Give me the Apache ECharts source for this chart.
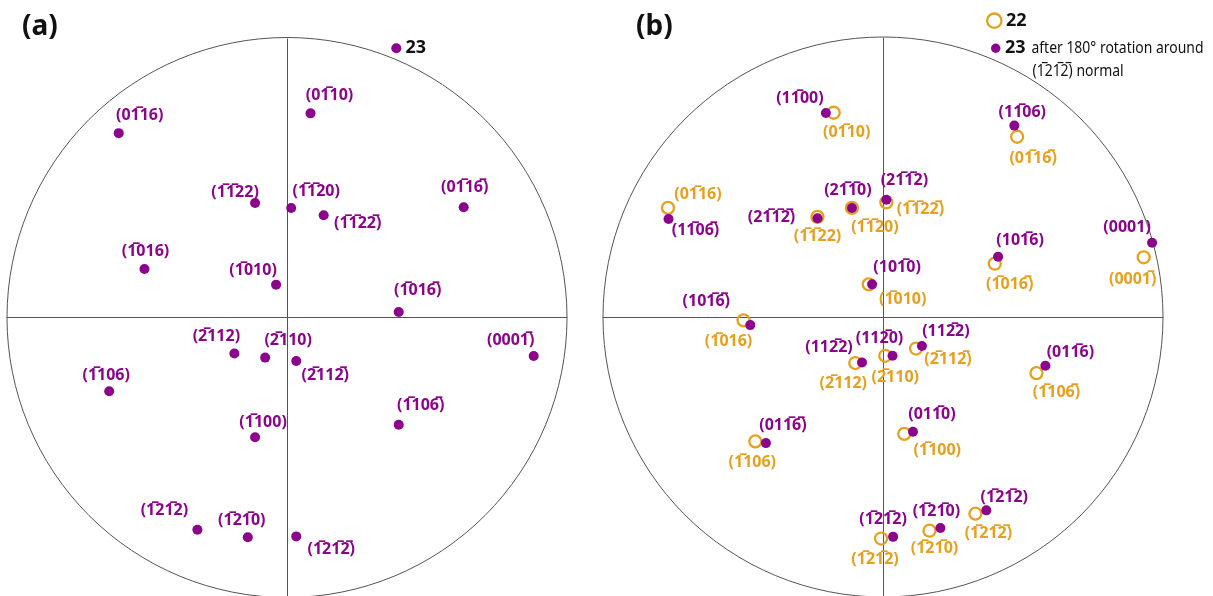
<!DOCTYPE html>
<html>
<head>
<meta charset="utf-8">
<script src="https://cdn.jsdelivr.net/npm/echarts@6/dist/echarts.min.js"></script>
<style>
  html, body { margin: 0; padding: 0; background: #ffffff; }
  #chart { width: 1213px; height: 596px; }
</style>
</head>
<body>
<div id="chart"></div>
<script>
// Stereographic pole positions in projection units (unit circle = primitive).
// Miller-Bravais indices (h k i l); negative entries are drawn with an overbar.

// (a) grain 23
const grain23Indices = [
  [0,-1,1,6], [-1,-1,2,2], [-1,-1,2,0], [-1,0,1,6], [-1,0,1,0],
  [0,-1,1,0], [-1,-1,2,-2], [0,-1,1,-6], [-1,0,1,-6], [0,0,0,-1],
  [-1,1,0,-6], [-2,1,1,-2], [-1,2,-1,-2], [-2,1,1,2], [-2,1,1,0],
  [-1,1,0,6], [-1,1,0,0], [-1,2,-1,2], [-1,2,-1,0]
];
const grain23Poles = [
  [-0.601, 0.662], [-0.114, 0.411], [0.015, 0.393], [-0.509, 0.174], [-0.039, 0.118],
  [0.084, 0.733], [0.131, 0.367], [0.631, 0.396], [0.399, 0.020], [0.881, -0.138],
  [0.399, -0.385], [0.033, -0.156], [0.033, -0.786], [-0.188, -0.129], [-0.078, -0.144],
  [-0.635, -0.265], [-0.114, -0.430], [-0.320, -0.762], [-0.140, -0.789]
];

// (b) grain 22
const grain22Indices = [
  [0,-1,1,0], [0,-1,1,6], [-1,-1,2,2], [-1,-1,2,0], [-1,-1,2,-2],
  [-1,0,1,0], [-1,0,1,6], [-2,1,1,2], [-2,1,1,0], [-2,1,1,-2],
  [-1,1,0,-6], [-1,1,0,0], [-1,2,-1,-2], [-1,2,-1,0], [-1,2,-1,2],
  [-1,1,0,6], [0,-1,1,-6], [-1,0,1,-6], [0,0,0,-1]
];
const grain22Poles = [
  [-0.176, 0.732], [-0.768, 0.391], [-0.234, 0.359], [-0.111, 0.391], [0.012, 0.411],
  [-0.051, 0.117], [-0.498, -0.012], [-0.099, -0.165], [0.008, -0.139], [0.118, -0.113],
  [0.548, -0.201], [0.076, -0.419], [0.330, -0.705], [0.166, -0.766], [-0.007, -0.794],
  [-0.456, -0.446], [0.479, 0.646], [0.399, 0.191], [0.931, 0.214]
];

// (b) grain 23 after 180° rotation around the (-1 2 -1 -2) normal
const grain23RotIndices = [
  [1,-1,0,0], [1,-1,0,-6], [2,-1,-1,-2], [2,-1,-1,0], [2,-1,-1,2],
  [1,0,-1,0], [1,0,-1,-6], [1,1,-2,2], [1,1,-2,0], [1,1,-2,2],
  [0,1,-1,6], [0,1,-1,0], [-1,2,-1,2], [-1,2,-1,0], [-1,2,-1,2],
  [0,1,-1,-6], [1,-1,0,6], [1,0,-1,6], [0,0,0,1]
];
const grain23RotPoles = [
  [-0.204, 0.731], [-0.766, 0.351], [-0.234, 0.354], [-0.111, 0.391], [0.012, 0.420],
  [-0.039, 0.117], [-0.474, -0.029], [-0.075, -0.163], [0.034, -0.139], [0.139, -0.104],
  [0.580, -0.175], [0.107, -0.411], [0.369, -0.693], [0.205, -0.756], [0.036, -0.788],
  [-0.418, -0.452], [0.469, 0.686], [0.411, 0.216], [0.961, 0.266]
];

// Label placement relative to each mark, in pixels [dx, dy].
const grain23LabelShift = [
  [21,-18], [-20,-11], [25,-17], [1,-18], [-23,-14],
  [19,-18], [34,8], [1,-20], [19,-21], [-23,-15],
  [22,-19], [29,14], [35,13], [-18,-17], [23,-17],
  [-3,-16], [8,-15], [-33,-19], [-6,-17]
];
const grain22LabelShift = [
  [13,20], [30,-13], [0,20], [23,20], [34,7],
  [34,15], [-15,21], [-12,20], [10,22], [32,11],
  [20,19], [33,17], [13,20], [5,18], [-6,21],
  [-3,21], [16,22], [15,21], [-11,22]
];
const grain23RotLabelShift = [
  [-26,-15], [27,11], [-46,-1], [-4,-17], [18,-19],
  [25,-17], [-44,-24], [-33,-15], [-13,-17], [24,-15],
  [25,-13], [19,-17], [18,-13], [-4,-16], [-10,-17],
  [17,-18], [8,-13], [22,-16], [-25,-15]
];

const PURPLE = '#8b048b';
const ORANGE = '#e6a01e';
const LINE = '#555555';
const FONT = "'Noto Sans', 'DejaVu Sans', sans-serif";

function hkil(idx) {
  return '(' + idx.map(n => n < 0 ? String(-n) + '\u0305' : String(n)).join('') + ')';
}

function poleData(poles, indices, shifts) {
  return poles.map((p, i) => ({
    value: p,
    name: hkil(indices[i]),
    label: { offset: shifts[i] }
  }));
}

const labelStyle = (color) => ({
  show: true,
  position: 'inside',
  formatter: (p) => p.name,
  color: color,
  fontFamily: FONT,
  fontWeight: 'bold',
  fontSize: 16,
  align: 'center',
  verticalAlign: 'middle'
});

function primitiveCircle(gridIndex) {
  return {
    type: 'custom',
    xAxisIndex: gridIndex,
    yAxisIndex: gridIndex,
    silent: true,
    z: 1,
    data: [[0, 0]],
    renderItem: (params, api) => {
      const c = api.coord([0, 0]);
      const r = api.size([1, 0])[0];
      return {
        type: 'circle',
        shape: { cx: c[0], cy: c[1], r: r },
        style: { fill: 'none', stroke: LINE, lineWidth: 1 }
      };
    }
  };
}

function projAxis(gridIndex) {
  return {
    type: 'value',
    gridIndex: gridIndex,
    min: -1,
    max: 1,
    axisLine: { show: true, onZero: true, lineStyle: { color: LINE, width: 1 } },
    axisTick: { show: false },
    axisLabel: { show: false },
    splitLine: { show: false }
  };
}

const chart = echarts.init(document.getElementById('chart'), null, { renderer: 'canvas' });

chart.setOption({
  backgroundColor: '#ffffff',
  animation: false,
  grid: [
    { left: 7, top: 39, width: 560, height: 560 },
    { left: 603, top: 38, width: 560, height: 560 }
  ],
  xAxis: [projAxis(0), projAxis(1)],
  yAxis: [projAxis(0), projAxis(1)],
  graphic: [
    { type: 'text', left: 22, top: 13, style: { text: '(a)', fontFamily: FONT, fontWeight: 'bold', fontSize: 28, fill: '#111' } },
    { type: 'text', left: 636, top: 13, style: { text: '(b)', fontFamily: FONT, fontWeight: 'bold', fontSize: 28, fill: '#111' } },
    // key in (a)
    { type: 'circle', shape: { cx: 396.3, cy: 48.3, r: 5 }, style: { fill: PURPLE } },
    { type: 'text', x: 405.5, y: 48.3, style: { text: '23', fontFamily: FONT, fontWeight: 'bold', fontSize: 18, fill: '#111', verticalAlign: 'middle' } },
    // key in (b)
    { type: 'circle', shape: { cx: 994.3, cy: 20.7, r: 7.2 }, style: { fill: 'none', stroke: ORANGE, lineWidth: 2.3 } },
    { type: 'text', x: 1006, y: 20.7, style: { text: '22', fontFamily: FONT, fontWeight: 'bold', fontSize: 18, fill: '#111', verticalAlign: 'middle' } },
    { type: 'circle', shape: { cx: 995.7, cy: 48.3, r: 4.7 }, style: { fill: PURPLE } },
    { type: 'text', x: 1005, y: 48.3, style: { text: '23', fontFamily: FONT, fontWeight: 'bold', fontSize: 18, fill: '#111', verticalAlign: 'middle' } },
    { type: 'text', x: 1031.5, y: 48.3, scaleX: 0.82, style: { text: 'after 180° rotation around', fontFamily: FONT, fontSize: 17, fill: '#111', verticalAlign: 'middle' } },
    { type: 'text', x: 1032.5, y: 71, scaleX: 0.82, style: { text: hkil([-1,2,-1,-2]) + ' normal', fontFamily: FONT, fontSize: 17, fill: '#111', verticalAlign: 'middle' } }
  ],
  series: [
    primitiveCircle(0),
    primitiveCircle(1),
    {
      name: '23',
      type: 'scatter',
      xAxisIndex: 0, yAxisIndex: 0,
      symbol: 'circle',
      symbolSize: 10,
      itemStyle: { color: PURPLE, opacity: 1 },
      label: labelStyle(PURPLE),
      data: poleData(grain23Poles, grain23Indices, grain23LabelShift),
      z: 3
    },
    {
      name: '22',
      type: 'scatter',
      xAxisIndex: 1, yAxisIndex: 1,
      symbol: 'circle',
      symbolSize: 12,
      itemStyle: { color: 'rgba(0,0,0,0)', borderColor: ORANGE, borderWidth: 2.3, opacity: 1 },
      label: labelStyle(ORANGE),
      data: poleData(grain22Poles, grain22Indices, grain22LabelShift),
      z: 2
    },
    {
      name: '23 rotated',
      type: 'scatter',
      xAxisIndex: 1, yAxisIndex: 1,
      symbol: 'circle',
      symbolSize: 10,
      itemStyle: { color: PURPLE, opacity: 1 },
      label: labelStyle(PURPLE),
      data: poleData(grain23RotPoles, grain23RotIndices, grain23RotLabelShift),
      z: 3
    }
  ]
});
</script>
</body>
</html>
